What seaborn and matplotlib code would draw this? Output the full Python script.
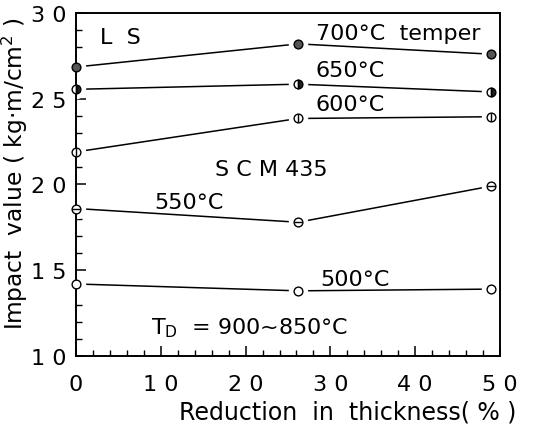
import matplotlib
matplotlib.use("Agg")
import matplotlib.pyplot as plt
import seaborn as sns
import pandas as pd
from matplotlib.ticker import MultipleLocator

reduction = [0, 26.2, 48.9]
temps = ["500", "550", "600", "650", "700"]
v500 = [14.2, 13.8, 13.9]
v550 = [18.6, 17.8, 19.9]
v600 = [21.9, 23.85, 23.95]
v650 = [25.55, 25.85, 25.4]
v700 = [26.85, 28.2, 27.6]
series = {"500": v500, "550": v550, "600": v600, "650": v650, "700": v700}
xticks = [0, 10, 20, 30, 40, 50]
xticklabels = ["0", "1 0", "2 0", "3 0", "4 0", "5 0"]
yticks = [10, 15, 20, 25, 30]
yticklabels = ["1 0", "1 5", "2 0", "2 5", "3 0"]

rows = []
for t in temps:
    for x, y in zip(reduction, series[t]):
        rows.append({"temp": t, "x": x, "y": y})
df = pd.DataFrame(rows)

sns.set_theme(style="ticks")
plt.rcParams['font.family'] = ['DejaVu Sans']
plt.rcParams['text.color'] = 'black'
plt.rcParams['axes.labelcolor'] = 'black'

fig = plt.figure(figsize=(5.33, 4.27), dpi=100)
ax = fig.add_axes([76/533, 1-357/427, 424/533, 343/427])

sns.lineplot(data=df, x="x", y="y", units="temp", estimator=None,
             color="black", lw=1.1, ax=ax, legend=False, zorder=1.5)

ms = 6.3
for t in temps:
    sub = df[df.temp == t]
    # white halo to create the gap between line and marker
    ax.plot(sub.x, sub.y, ls="none", marker="o", ms=13, mfc="white", mec="white", zorder=2)
    kw = dict(ls="none", ms=ms, mec="black", mew=1.0, zorder=4, clip_on=False)
    if t == "700":
        ax.plot(sub.x, sub.y, marker="o", mfc="#555555", **kw)
    elif t == "650":
        ax.plot(sub.x, sub.y, marker="o", fillstyle="right", mfc="#222222",
                markerfacecoloralt="white", **kw)
        ax.plot(sub.x, sub.y, marker="|", **{**kw, "zorder": 5})
    else:
        ax.plot(sub.x, sub.y, marker="o", mfc="white", **kw)
        if t == "600":
            ax.plot(sub.x, sub.y, marker="|", **{**kw, "zorder": 5})
        elif t == "550":
            ax.plot(sub.x, sub.y, marker="_", **{**kw, "zorder": 5})

ax.set_xlim(0, 50)
ax.set_ylim(10, 30)
ax.set_xticks(xticks)
ax.set_xticklabels(xticklabels)
ax.set_yticks(yticks)
ax.set_yticklabels(yticklabels)
ax.xaxis.set_minor_locator(MultipleLocator(2))
ax.yaxis.set_minor_locator(MultipleLocator(1))
ax.tick_params(which="major", direction="in", length=7, width=1.1, labelsize=16,
               colors="black", labelcolor="black")
ax.tick_params(which="minor", direction="in", length=4, width=1.0, colors="black")
ax.tick_params(axis="x", which="major", pad=13)
ax.tick_params(axis="y", which="major", pad=7)
for s in ax.spines.values():
    s.set_linewidth(1.4)
    s.set_color("black")
    s.set_zorder(2.5)

ax.set_xlabel("Reduction  in  thickness( % )", fontsize=17)
ax.xaxis.set_label_coords(0.64, -0.128)
ax.set_ylabel("Impact  value ( kg·m/cm$^2$ )", fontsize=16.8)
ax.yaxis.set_label_coords(-0.108, 0.535)

fs = 16
ax.text(5.2, 28.6, "L  S", fontsize=fs, va="center", ha="center")
ax.text(28.3, 28.85, "700°C  temper", fontsize=fs, va="center", ha="left")
ax.text(28.3, 26.65, "650°C", fontsize=fs, va="center", ha="left")
ax.text(28.3, 24.7, "600°C", fontsize=fs, va="center", ha="left")
ax.text(16.4, 20.9, "S C M 435", fontsize=fs, va="center", ha="left")
ax.text(9.2, 19.0, "550°C", fontsize=fs, va="center", ha="left")
ax.text(28.8, 14.5, "500°C", fontsize=fs, va="center", ha="left")
ax.text(8.8, 11.7, "T$_{\\mathregular{D}}$  = 900~850°C", fontsize=fs, va="center", ha="left")

fig.savefig("out.png", dpi=100)
